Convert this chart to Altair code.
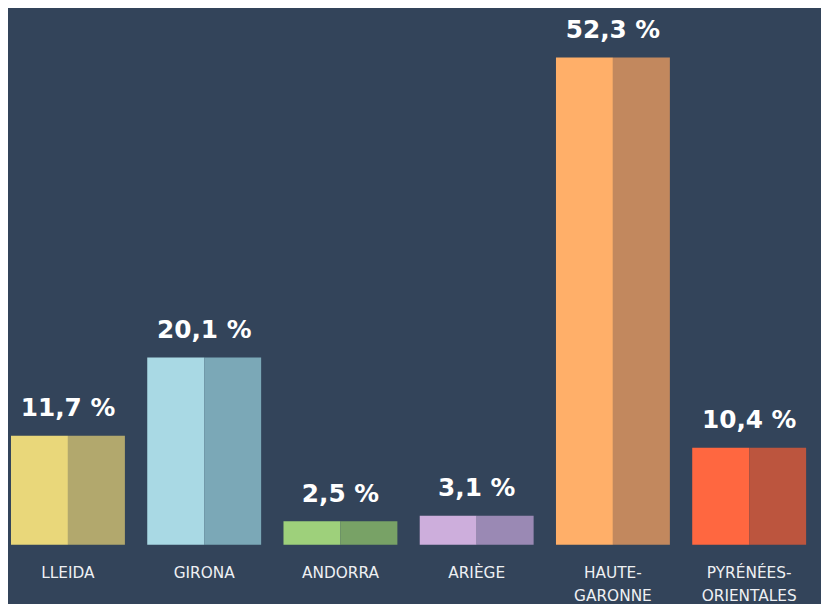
import altair as alt
import pandas as pd

categories = ["LLEIDA", "GIRONA", "ANDORRA", "ARIÈGE", "HAUTE-GARONNE", "PYRÉNÉES-ORIENTALES"]
values = [11.7, 20.1, 2.5, 3.1, 52.3, 10.4]
light_colors = ["#E9D77A", "#A9D9E4", "#9ED07B", "#CDAEDC", "#FFAF69", "#FF6740"]
dark_colors = ["#B2A86D", "#7BA8B7", "#78A266", "#9A89B4", "#C2885E", "#BC553E"]

BG = "#33445A"

rows = []
keys = []
cols = []
for c, v, lc, dc in zip(categories, values, light_colors, dark_colors):
    rows.append({"category": c, "half": "a", "value": v, "key": c + "_a"})
    rows.append({"category": c, "half": "b", "value": v, "key": c + "_b"})
    keys += [c + "_a", c + "_b"]
    cols += [lc, dc]
bars_df = pd.DataFrame(rows)
vals_df = pd.DataFrame({"category": categories, "value": values})

x_enc = alt.X(
    "category:N",
    sort=categories,
    scale=alt.Scale(paddingInner=0.164, paddingOuter=0.022),
    axis=alt.Axis(
        title=None,
        domain=False,
        ticks=False,
        labelAngle=0,
        labelColor="#EEF0F3",
        labelFont="DejaVu Sans",
        labelFontSize=15.5,
        labelPadding=21,
        labelBaseline="top",
        labelLineHeight=23,
        labelLimit=300,
        labelExpr="split(replace(datum.label, '-', '-|'), '|')",
    ),
)
y_scale = alt.Scale(domain=[0, 57.3], nice=False, zero=True)

bars = alt.Chart(bars_df).mark_bar().encode(
    x=x_enc,
    xOffset=alt.XOffset("half:N", scale=alt.Scale(paddingInner=0, paddingOuter=0)),
    y=alt.Y("value:Q", scale=y_scale, axis=None),
    color=alt.Color("key:N", scale=alt.Scale(domain=keys, range=cols), legend=None),
)

text = alt.Chart(vals_df).transform_calculate(
    label="replace(format(datum.value, '.1f'), '.', ',') + ' %'"
).mark_text(
    dy=-20,
    baseline="alphabetic",
    font="DejaVu Sans",
    fontSize=25,
    fontWeight="bold",
    color="#FFFFFF",
).encode(
    x=alt.X("category:N", sort=categories),
    y=alt.Y("value:Q", scale=y_scale),
    text="label:N",
)

chart = alt.layer(bars, text).properties(
    width=809,
    height=539,
    autosize=alt.AutoSizeParams(type="none"),
    padding={"left": 0, "top": 0, "right": 12, "bottom": 57},
    background=BG,
).configure_view(stroke=None)

chart.save("out.html", embed_options={"renderer": "svg", "actions": False})
